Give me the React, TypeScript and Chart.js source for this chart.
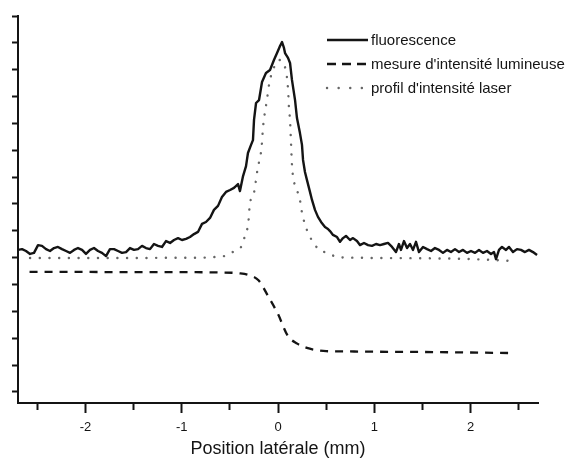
import React, { useEffect, useRef } from 'react';
import { Chart, registerables } from 'chart.js';

Chart.register(...registerables);

// Lateral position (mm) and fluorescence signal (arbitrary units)
const FLUO_X = [
  -2.700, -2.658, -2.617, -2.575, -2.534, -2.492, -2.451, -2.409, -2.368, -2.326,
  -2.285, -2.243, -2.201, -2.160, -2.118, -2.077, -2.035, -1.994, -1.952, -1.911,
  -1.869, -1.828, -1.786, -1.745, -1.703, -1.661, -1.620, -1.578, -1.537, -1.495,
  -1.454, -1.412, -1.371, -1.329, -1.288, -1.246, -1.205, -1.163, -1.121, -1.080,
  -1.038, -0.997, -0.955, -0.914, -0.872, -0.831, -0.789, -0.748, -0.706, -0.665,
  -0.623, -0.582, -0.540, -0.498, -0.457, -0.415, -0.395, -0.363, -0.332, -0.312,
  -0.280, -0.260, -0.249, -0.228, -0.197, -0.166, -0.125, -0.083, -0.042, -0.010,
  0.021, 0.042, 0.062, 0.073, 0.104, 0.125, 0.145, 0.177, 0.197, 0.228,
  0.249, 0.260, 0.280, 0.301, 0.332, 0.353, 0.384, 0.415, 0.447, 0.488,
  0.519, 0.540, 0.571, 0.613, 0.644, 0.675, 0.706, 0.748, 0.779, 0.820,
  0.851, 0.893, 0.935, 0.976, 1.018, 1.059, 1.101, 1.142, 1.184, 1.225,
  1.256, 1.277, 1.308, 1.340, 1.371, 1.402, 1.433, 1.464, 1.506, 1.548,
  1.589, 1.630, 1.672, 1.713, 1.755, 1.796, 1.838, 1.880, 1.921, 1.963,
  2.004, 2.046, 2.087, 2.129, 2.170, 2.212, 2.243, 2.264, 2.295, 2.326,
  2.368, 2.399, 2.440, 2.482, 2.523, 2.565, 2.606, 2.648, 2.690,
];
const FLUO_Y = [
  5.29, 5.32, 5.25, 5.14, 5.18, 5.47, 5.44, 5.32, 5.25, 5.36,
  5.40, 5.32, 5.25, 5.18, 5.29, 5.36, 5.29, 5.14, 5.29, 5.36,
  5.25, 5.18, 5.06, 5.32, 5.32, 5.25, 5.18, 5.21, 5.36, 5.29,
  5.32, 5.44, 5.36, 5.32, 5.51, 5.44, 5.40, 5.62, 5.55, 5.66,
  5.73, 5.66, 5.70, 5.77, 5.88, 5.96, 6.26, 6.33, 6.48, 6.78,
  6.93, 7.26, 7.45, 7.52, 7.60, 7.74, 7.48, 8.04, 8.41, 8.90,
  9.20, 9.38, 10.13, 10.76, 10.87, 11.54, 11.88, 11.99, 12.36, 12.62,
  12.88, 13.03, 12.81, 12.62, 12.44, 12.25, 11.62, 10.87, 10.20, 9.64,
  9.20, 8.64, 8.19, 7.89, 7.45, 7.15, 6.78, 6.52, 6.33, 6.14,
  6.07, 5.99, 5.85, 5.77, 5.59, 5.73, 5.81, 5.66, 5.73, 5.62,
  5.47, 5.55, 5.47, 5.44, 5.51, 5.47, 5.51, 5.55, 5.40, 5.21,
  5.51, 5.29, 5.62, 5.36, 5.51, 5.29, 5.59, 5.21, 5.40, 5.32,
  5.25, 5.36, 5.29, 5.18, 5.29, 5.21, 5.32, 5.21, 5.29, 5.18,
  5.25, 5.18, 5.29, 5.18, 5.25, 5.14, 5.21, 4.95, 5.29, 5.40,
  5.29, 5.40, 5.21, 5.32, 5.29, 5.21, 5.29, 5.21, 5.10,
];

// Light-intensity measurement (knife-edge like step)
const MESURE_X = [
  -2.58, -2.0, -1.5, -1.0, -0.6, -0.4, -0.3, -0.2, -0.1, 0.0,
  0.1, 0.2, 0.3, 0.4, 0.5, 0.7, 1.0, 1.5, 2.0, 2.44,
];
const MESURE_Y = [
  4.47, 4.47, 4.46, 4.46, 4.45, 4.42, 4.35, 4.15, 3.55, 2.9,
  2.1, 1.8, 1.64, 1.56, 1.52, 1.51, 1.5, 1.49, 1.47, 1.45,
];

// Laser intensity profile
const LASER_X = [
  -2.575, -2.0, -1.5, -1.0, -0.8, -0.65, -0.52, -0.44, -0.36, -0.34,
  -0.31, -0.29, -0.26, -0.21, -0.17, -0.155, -0.115, -0.09, -0.06, 0.01,
  0.08, 0.105, 0.115, 0.125, 0.135, 0.145, 0.18, 0.22, 0.25, 0.30,
  0.35, 0.43, 0.52, 0.61, 0.8, 1.0, 1.5, 2.0, 2.42,
];
const LASER_Y = [
  4.99, 4.99, 4.99, 5.0, 5.0, 5.03, 5.10, 5.29, 5.55, 5.92,
  6.22, 7.07, 7.26, 8.34, 9.12, 9.87, 10.87, 11.50, 11.91, 12.36,
  11.99, 11.24, 10.50, 10.13, 9.27, 8.45, 7.63, 7.30, 6.66, 6.03,
  5.66, 5.29, 5.18, 5.03, 5.0, 4.99, 4.98, 4.95, 4.88,
];

const SERIES_LABELS = ['fluorescence', "mesure d'intensité lumineuse", "profil d'intensité laser"];
const X_TITLE = 'Position latérale (mm)';
const X_RANGE = [-2.7, 2.7];
const Y_RANGE = [-0.41, 14];

const FONT = '"Liberation Sans", Arial, Helvetica, sans-serif';
const INK = '#141414';

const toPoints = (xs: number[], ys: number[]) => xs.map((x, i) => ({ x, y: ys[i] }));

const insetLegend = {
  id: 'insetLegend',
  afterDraw(chart: any) {
    const { ctx, chartArea } = chart;
    const x0 = chartArea.right - 211;
    const len = 41;
    ctx.save();
    chart.data.datasets.forEach((ds: any, i: number) => {
      const y = chartArea.top + 24 + i * 24;
      ctx.beginPath();
      ctx.strokeStyle = ds.borderColor;
      ctx.lineWidth = ds.borderWidth;
      ctx.lineCap = ds.borderCapStyle || 'butt';
      ctx.setLineDash(ds.legendDash || []);
      ctx.moveTo(x0, y);
      ctx.lineTo(x0 + len, y);
      ctx.stroke();
      ctx.setLineDash([]);
      ctx.fillStyle = INK;
      ctx.font = `15px ${FONT}`;
      ctx.textBaseline = 'middle';
      ctx.textAlign = 'left';
      ctx.fillText(ds.label, x0 + len + 3, y + 1);
    });
    ctx.restore();
  },
};

export default function App() {
  const ref = useRef<HTMLCanvasElement | null>(null);

  useEffect(() => {
    if (!ref.current) return;
    const chart = new Chart(ref.current, {
      type: 'line',
      data: {
        datasets: [
          {
            label: SERIES_LABELS[0],
            data: toPoints(FLUO_X, FLUO_Y),
            borderColor: INK,
            borderWidth: 2.4,
            pointRadius: 0,
            tension: 0,
            borderJoinStyle: 'round',
          } as any,
          {
            label: SERIES_LABELS[1],
            data: toPoints(MESURE_X, MESURE_Y),
            borderColor: INK,
            borderWidth: 2.3,
            borderDash: [8, 7],
            legendDash: [9, 6],
            pointRadius: 0,
            cubicInterpolationMode: 'monotone',
          } as any,
          {
            label: SERIES_LABELS[2],
            data: toPoints(LASER_X, LASER_Y),
            borderColor: '#666666',
            borderWidth: 2.4,
            borderDash: [0.1, 9.6],
            legendDash: [0.1, 11.5],
            borderCapStyle: 'round',
            pointRadius: 0,
            cubicInterpolationMode: 'monotone',
          } as any,
        ],
      },
      options: {
        animation: false,
        responsive: true,
        maintainAspectRatio: false,
        layout: { padding: { left: 0, top: 16, right: 30, bottom: 0 } },
        plugins: {
          legend: { display: false },
          tooltip: { enabled: false },
        },
        scales: {
          x: {
            type: 'linear',
            min: X_RANGE[0],
            max: X_RANGE[1],
            afterFit: (s: any) => { s.height = 65; },
            border: { display: true, color: INK, width: 2 },
            grid: {
              drawOnChartArea: false,
              drawTicks: true,
              tickLength: 10,
              tickWidth: 2,
              tickColor: INK,
              tickBorderDash: (c: any) =>
                c.tick && Math.abs(c.tick.value - Math.round(c.tick.value)) < 1e-6 ? [] : [6, 30],
            },
            ticks: {
              stepSize: 0.5,
              includeBounds: false,
              autoSkip: false,
              maxRotation: 0,
              padding: 7,
              color: INK,
              font: { family: FONT, size: 13 },
              callback: (v: any) => {
                const n = Number(v);
                return Math.abs(n - Math.round(n)) < 1e-6 ? String(Math.round(n)) : '';
              },
            },
            title: {
              display: true,
              text: X_TITLE,
              color: INK,
              font: { family: FONT, size: 18 },
              padding: { top: 0, bottom: 8 },
            },
          },
          y: {
            type: 'linear',
            min: Y_RANGE[0],
            max: Y_RANGE[1],
            afterFit: (s: any) => { s.width = 18; },
            border: { display: true, color: INK, width: 2 },
            grid: {
              drawOnChartArea: false,
              drawTicks: true,
              tickLength: 6,
              tickWidth: 2,
              tickColor: INK,
            },
            ticks: {
              stepSize: 1,
              includeBounds: false,
              display: false,
            },
          },
        },
      } as any,
      plugins: [insetLegend],
    });
    return () => chart.destroy();
  }, []);

  return (
    <div style={{ position: 'absolute', left: 0, top: 0, width: 568, height: 468, background: '#fff' }}>
      <canvas ref={ref} />
    </div>
  );
}
